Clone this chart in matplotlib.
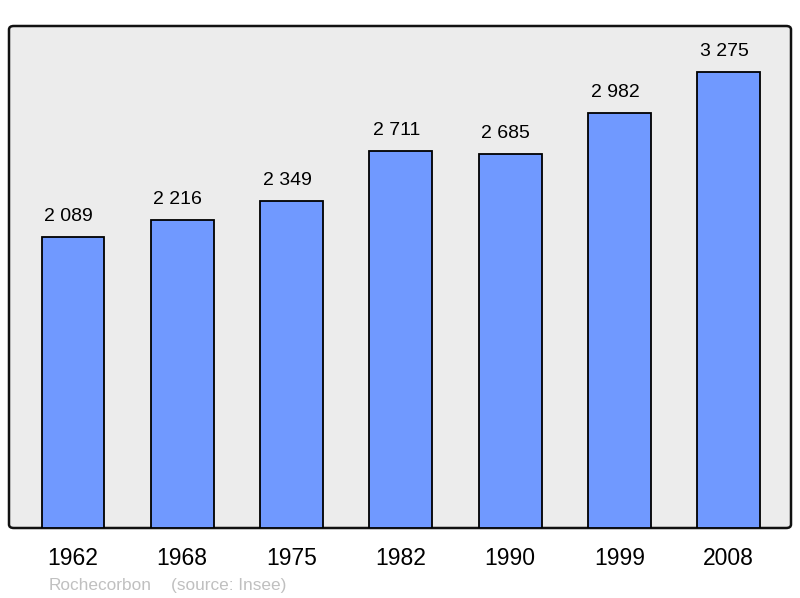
import matplotlib
matplotlib.use("Agg")
import matplotlib.pyplot as plt
from matplotlib.patches import FancyBboxPatch

years = ["1962", "1968", "1975", "1982", "1990", "1999", "2008"]
population = [2089, 2216, 2349, 2711, 2685, 2982, 3275]
value_labels = ["2 089", "2 216", "2 349", "2 711", "2 685", "2 982", "3 275"]
town = "Rochecorbon"
source = "(source: Insee)"

plt.rcParams['font.family'] = ['Liberation Sans', 'DejaVu Sans']

W, H = 800, 598
fig = plt.figure(figsize=(W / 100, H / 100), dpi=100)
left, right, top, bottom = 9, 791, 26, 528
ax = fig.add_axes([left / W, (H - bottom) / H, (right - left) / W, (bottom - top) / H])
ax.set_facecolor('none')

# rounded frame
frame = FancyBboxPatch((left / W, (H - bottom) / H), (right - left) / W, (bottom - top) / H,
                       boxstyle="round,pad=0,rounding_size=0.006", transform=fig.transFigure,
                       facecolor='#ececec', edgecolor='#111111', linewidth=1.8, zorder=0,
                       clip_on=False)
ax.add_patch(frame)

x = list(range(len(years)))
ax.bar(x, population, width=0.575, color='#7099ff', edgecolor='black', linewidth=1.3, zorder=2)
ax.set_xlim(-0.585, 6.57)
ax.set_ylim(0, 3607)

for xi, v, lab in zip(x, population, value_labels):
    ax.annotate(lab, (xi, v), xytext=(-3.2, 11.5), textcoords='offset points',
                ha='center', va='baseline', fontsize=14, color='black')

for xi, yr in zip(x, years):
    ax.annotate(yr, (xi, 0), xycoords=('data', 'axes fraction'), xytext=(0, -26.6),
                textcoords='offset points', ha='center', va='baseline', fontsize=16.5,
                color='black', annotation_clip=False)

ax.set_xticks([])
ax.set_yticks([])
for s in ax.spines.values():
    s.set_visible(False)

fig.text(49 / W, (H - 590) / H, town, fontsize=12.4, color='#c0c0c0', va='baseline', ha='left')
fig.text(171 / W, (H - 590) / H, source, fontsize=12.4, color='#c0c0c0', va='baseline', ha='left')

fig.savefig('out.png', dpi=100, facecolor='white')
